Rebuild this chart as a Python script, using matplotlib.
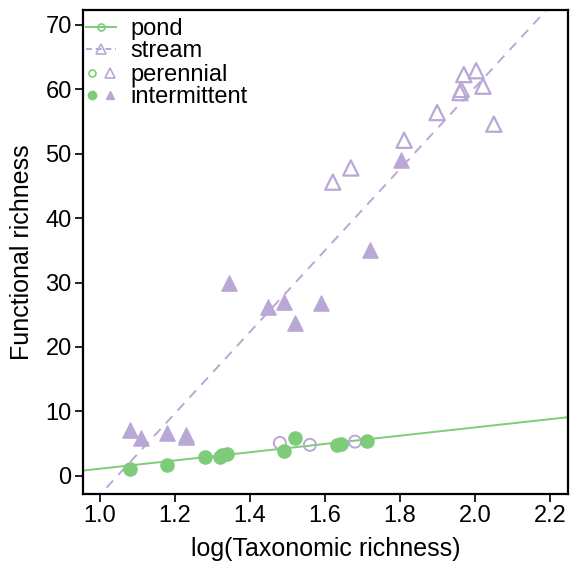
import matplotlib
matplotlib.use("Agg")
import matplotlib.pyplot as plt
from matplotlib.lines import Line2D
from matplotlib.legend_handler import HandlerTuple

GREEN = "#7ecb7a"
PURPLE = "#b9a8d6"

# stream, perennial (open triangles)
sp_x = [1.621, 1.669, 1.811, 1.899, 1.960, 1.963, 1.970, 2.003, 2.021, 2.050]
sp_y = [45.6, 47.8, 52.1, 56.4, 59.5, 60.0, 62.3, 62.9, 60.5, 54.6]
# stream, intermittent (filled triangles)
si_x = [1.080, 1.110, 1.180, 1.230, 1.230, 1.344, 1.448, 1.490, 1.520, 1.589, 1.720, 1.803]
si_y = [7.1, 5.9, 6.7, 6.0, 6.4, 30.0, 26.2, 27.0, 23.7, 26.8, 35.0, 49.1]
# perennial open circles
pp_x = [1.480, 1.560, 1.680]
pp_y = [5.1, 4.8, 5.3]
# pond, intermittent (filled circles)
pi_x = [1.080, 1.180, 1.280, 1.320, 1.325, 1.340, 1.490, 1.520, 1.632, 1.643, 1.712]
pi_y = [1.1, 1.7, 2.9, 2.9, 3.2, 3.4, 3.9, 5.9, 4.8, 5.0, 5.4]

# fitted lines (intercept, slope)
pond_fit = (-5.33, 6.42)
stream_fit = (-66.3, 63.3)

plt.rcParams.update({
    "font.family": "Liberation Sans", "font.size": 17,
    "xtick.labelsize": 17, "ytick.labelsize": 17,
    "axes.linewidth": 1.6,
})

fig = plt.figure(figsize=(5.71, 5.65), dpi=100)
ax = fig.add_axes([0.145, 0.126, 0.85, 0.856])
xlim = (0.955, 2.248)
ax.set_xlim(*xlim)
ax.set_ylim(-2.8, 72.3)

xs = list(xlim)
ax.plot(xs, [pond_fit[0] + pond_fit[1] * v for v in xs], color=GREEN, lw=1.4)
ax.plot(xs, [stream_fit[0] + stream_fit[1] * v for v in xs], color=PURPLE,
        lw=1.4, ls=(0, (5, 4)))

ax.scatter(sp_x, sp_y, marker="^", s=120, facecolors="none",
           edgecolors=PURPLE, linewidths=1.6, zorder=3)
ax.scatter(si_x, si_y, marker="^", s=120, color=PURPLE, zorder=3)
ax.scatter(pp_x, pp_y, marker="o", s=75, facecolors="none",
           edgecolors=PURPLE, linewidths=1.4, zorder=3)
ax.scatter(pi_x, pi_y, marker="o", s=90, color=GREEN, zorder=3)

ax.set_xticks([1.0, 1.2, 1.4, 1.6, 1.8, 2.0, 2.2])
ax.set_yticks(range(0, 71, 10))
ax.tick_params(direction="out", length=6, width=1.2, pad=2)
ax.set_xlabel("log(Taxonomic richness)", fontsize=18, labelpad=7)
ax.set_ylabel("Functional richness", fontsize=18, labelpad=8)

h_pond = Line2D([], [], color=GREEN, lw=1.4, marker="o", ms=5,
                mfc="none", mew=1.2)
h_stream = Line2D([], [], color=PURPLE, lw=1.4, ls=(0, (3, 2)), marker="^",
                  ms=7, mfc="none", mew=1.2)
per = (Line2D([], [], ls="none", marker="o", ms=5, mfc="none", mec=GREEN, mew=1.2),
       Line2D([], [], ls="none", marker="^", ms=7, mfc="none", mec=PURPLE, mew=1.2))
inter = (Line2D([], [], ls="none", marker="o", ms=6, color=GREEN),
         Line2D([], [], ls="none", marker="^", ms=6, color=PURPLE))

common = dict(loc="upper left", frameon=False, fontsize=17, handlelength=1.3,
              handletextpad=0.6, labelspacing=0.0, borderpad=0.0,
              borderaxespad=0.0)
leg1 = ax.legend([h_pond, h_stream], ["pond", "stream"],
                 bbox_to_anchor=(0.006, 0.984), **common)
ax.add_artist(leg1)
ax.legend([per, inter], ["perennial", "intermittent"],
          handler_map={tuple: HandlerTuple(ndivide=None, pad=0.2)},
          bbox_to_anchor=(0.006, 0.888), **common)

fig.savefig("out.png", dpi=100)
